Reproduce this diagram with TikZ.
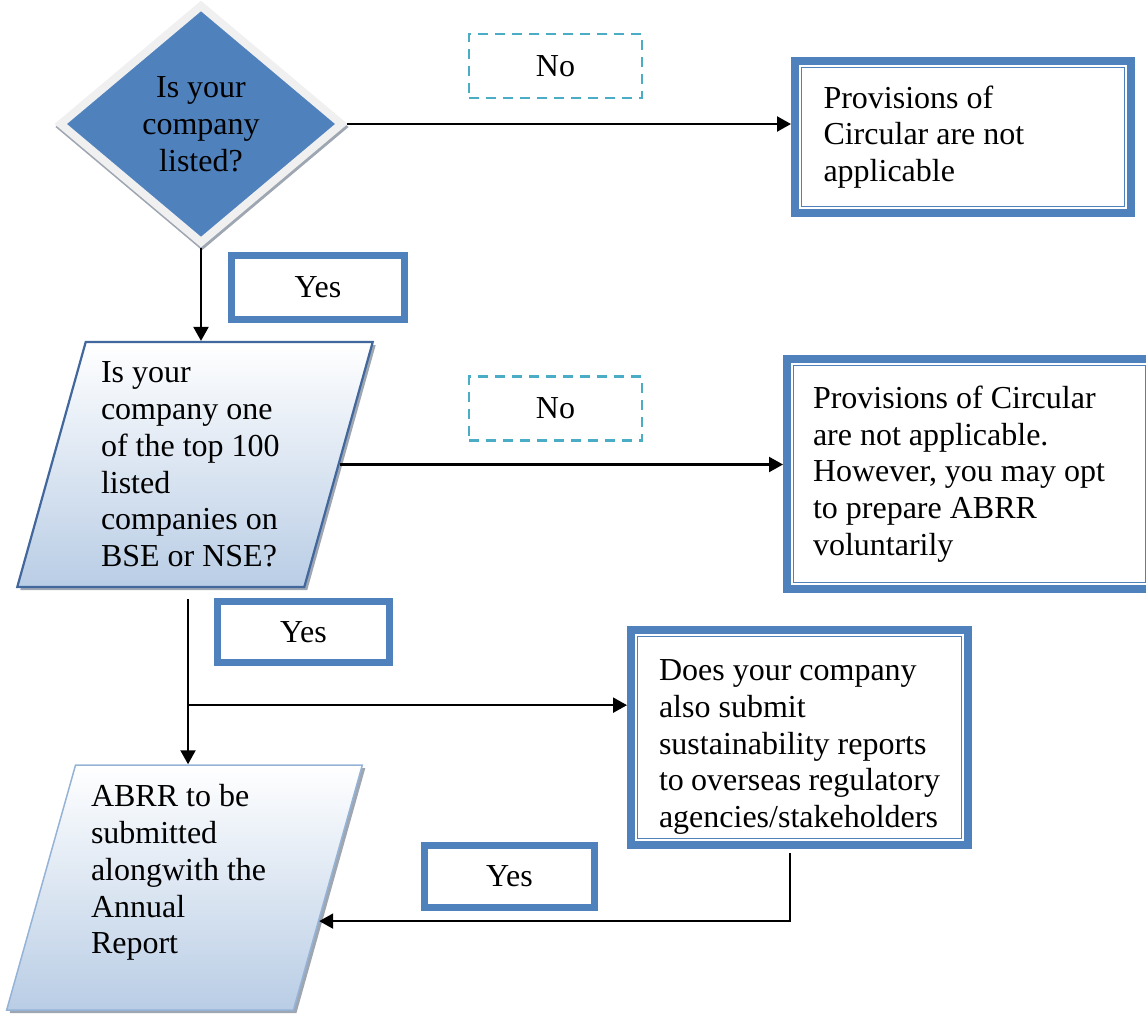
\documentclass[tikz,border=0pt]{standalone}
\usepackage{fontspec}
\setmainfont{Liberation Serif}
\usetikzlibrary{shapes.geometric,arrows.meta,shadows}
\definecolor{oblue}{HTML}{4F81BD}
\definecolor{aqua}{HTML}{4BACC6}
\definecolor{pborder}{HTML}{41679C}
\definecolor{pborderlight}{HTML}{95B3D7}
\definecolor{pfill}{HTML}{B9CDE5}
\definecolor{dgrey}{HTML}{F0F0F0}
\definecolor{shadowgrey}{HTML}{9EA6B2}
\begin{document}
\begin{tikzpicture}[x=0.5pt,y=-0.5pt,
  font=\fontsize{16}{18.4}\selectfont,
  every node/.append style={execute at begin node={\spaceskip=0pt\xspaceskip=0pt\hyphenpenalty=10000\exhyphenpenalty=10000}},
  conn/.style={line width=1.1pt,-{Triangle[length=7pt,width=7.5pt]}},
  nobox/.style={draw=aqua,line width=1.1pt,dash pattern=on 5pt off 3.5pt,
    minimum width=86.5pt,minimum height=32pt,inner sep=0pt},
  yesbox/.style={draw=oblue,line width=3.5pt,inner sep=0pt},
  dblbox/.style={draw=oblue,line width=4pt,align=left,inner sep=0pt},
  innerline/.style={draw=oblue,line width=0.75pt},
  para/.style={trapezium,trapezium left angle=74,trapezium right angle=106,
    trapezium stretches=true,minimum width=178pt,minimum height=122.5pt,
    top color=white,bottom color=pfill,inner sep=0pt,align=left,
    general shadow={fill=shadowgrey,shadow xshift=1.5pt,shadow yshift=-1.5pt}}
]
\useasboundingbox (0,0) rectangle (1146,1013);

% decision diamond
\node[diamond,draw=dgrey,line width=4pt,fill=oblue,
  minimum width=142pt,minimum height=119.7pt,inner sep=0pt,align=center,
  general shadow={draw=shadowgrey,fill=shadowgrey,line width=4pt,
    shadow xshift=0.5pt,shadow yshift=-1.5pt}]
  (d1) at (201,124) {Is your\\company\\listed?};

% right boxes
\node[dblbox,minimum width=168pt,minimum height=76pt,text width=139.5pt]
  (b1) at (963,137) {Provisions of\\Circular are not\\applicable};
\draw[innerline] ([xshift=5.25pt,yshift=-5.25pt]b1.north west) rectangle ([xshift=-5.25pt,yshift=5.25pt]b1.south east);

\node[dblbox,minimum width=182.5pt,minimum height=115pt,text width=156.5pt]
  (b2) at (969.5,474) {Provisions of Circular\\are not applicable.\\However, you may opt\\to prepare ABRR\\voluntarily};
\draw[innerline] ([xshift=5.25pt,yshift=-5.25pt]b2.north west) rectangle ([xshift=-5.25pt,yshift=5.25pt]b2.south east);

\node[dblbox,minimum width=168.5pt,minimum height=107.5pt,text width=140.5pt]
  (b3) at (799.5,737.5) {\rule{0pt}{20pt}Does your company\\also submit\\sustainability reports\\to overseas regulatory\\agencies/stakeholders};
\draw[innerline] ([xshift=5.25pt,yshift=-5.25pt]b3.north west) rectangle ([xshift=-5.25pt,yshift=5.25pt]b3.south east);

% parallelograms
\node[para,draw=pborder,line width=1.1pt,text width=94pt]
  (p1) at (195,464.5) {Is your\\company one\\of the top 100\\listed\\companies on\\BSE or NSE?};
\node[para,draw=pborderlight,line width=0.75pt,text width=93.5pt]
  (p2) at (184.5,887.5) {ABRR to be\\submitted\\alongwith the\\Annual\\Report\\\mbox{}};

% labels
\node[nobox] (n1) at (555.5,66) {No};
\node[nobox] (n2) at (555.5,408.5) {No};
\node[yesbox,minimum width=86.5pt,minimum height=32pt] (y1) at (318,287.5) {Yes};
\node[yesbox,minimum width=86pt,minimum height=30.5pt] (y2) at (303.5,632) {Yes};
\node[yesbox,minimum width=85pt,minimum height=31pt] (y3) at (509.5,876.5) {Yes};

% connectors
\draw[conn] (d1.east) -- (d1.east -| b1.west);
\draw[conn] (d1.south) -- (d1.south |- p1.north);
\draw[conn] (p1.east) -- (p1.east -| b2.west);
\coordinate (s1) at ([xshift=-3.5pt,yshift=-5.5pt]p1.south);
\draw[conn] (s1) -- (s1 |- p2.north);
\path (s1) ++(0,106) coordinate (j);
\draw[conn] (j) -- (j -| b3.west);
\coordinate (s3) at ([xshift=-4.75pt,yshift=-2pt]b3.south);
\draw[conn] (s3) |- (p2.-14);
\end{tikzpicture}
\end{document}
